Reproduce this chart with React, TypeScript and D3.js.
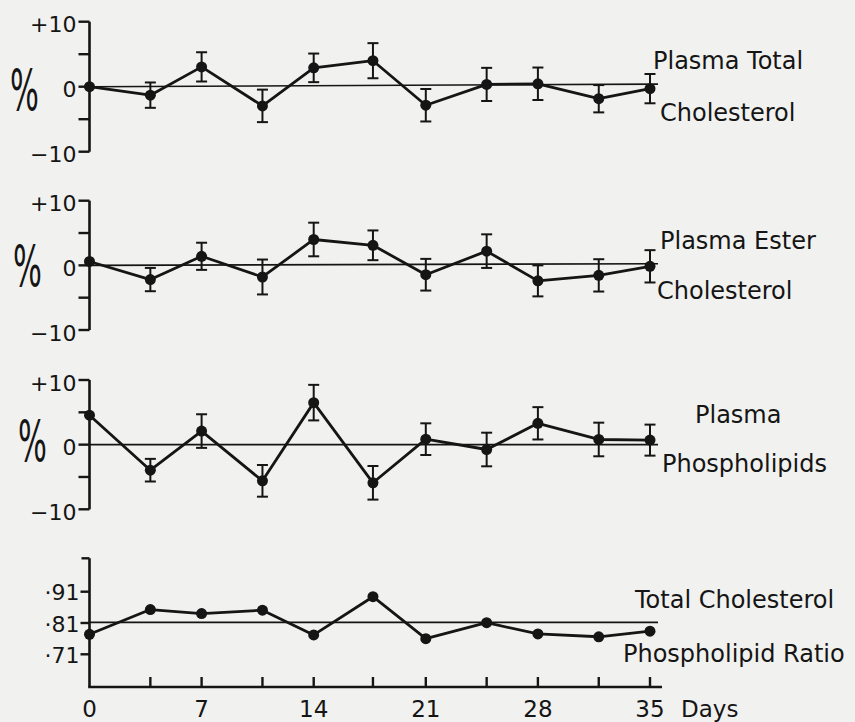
import React, { useEffect, useRef } from 'react';
import * as d3 from 'd3';

// ---- Data ----
const days = [0, 3.8, 7, 10.8, 14, 17.7, 21, 24.8, 28, 31.8, 35];
const dayTicks = [0, 7, 14, 21, 28, 35];

const totalChol = [0, -1.3, 3.05, -2.95, 2.9, 4.0, -2.85, 0.35, 0.45, -1.85, -0.3];
const totalCholErr = [0, 1.95, 2.25, 2.5, 2.2, 2.7, 2.5, 2.55, 2.5, 2.1, 2.25];

const esterChol = [0.6, -2.2, 1.4, -1.8, 4.0, 3.1, -1.45, 2.2, -2.4, -1.55, -0.15];
const esterCholErr = [0, 1.8, 2.1, 2.7, 2.6, 2.3, 2.45, 2.6, 2.4, 2.5, 2.5];

const phospholipids = [4.55, -3.95, 2.1, -5.6, 6.5, -5.9, 0.85, -0.75, 3.3, 0.8, 0.7];
const phospholipidsErr = [0, 1.75, 2.6, 2.45, 2.75, 2.6, 2.45, 2.6, 2.5, 2.6, 2.4];

const ratio = [0.774, 0.853, 0.84, 0.851, 0.772, 0.894, 0.76, 0.811, 0.775, 0.766, 0.784];

const pctTicks = [10, 5, 0, -5, -10];
const pctTickLabels = ['+10', '', '0', '', '\u221210'];
const ratioTicks = [0.91, 0.81, 0.71];
const ratioTickLabels = ['\u00b791', '\u00b781', '\u00b771'];

const refStartEnd1 = [0, 0.4];
const refStartEnd2 = [0, 0.25];
const refStartEnd3 = [0, 0];
const refStartEnd4 = [0.812, 0.812];

const labels1 = ['Plasma Total', 'Cholesterol'];
const labels2 = ['Plasma Ester', 'Cholesterol'];
const labels3 = ['Plasma', 'Phospholipids'];
const labels4 = ['Total Cholesterol', 'Phospholipid Ratio'];

const INK = '#151515';
const BG = '#f1f1ef';
const FONT = '"DejaVu Sans", sans-serif';

export default function App() {
  const ref = useRef<SVGSVGElement>(null);

  useEffect(() => {
    const svg = d3.select(ref.current);
    svg.selectAll('*').remove();
    svg.append('rect').attr('width', 855).attr('height', 722).attr('fill', BG);

    const x = d3.scaleLinear().domain([0, 35]).range([89.5, 650]);
    const axisX = 89.5;
    const refEndDay = 35.5;

    const pctPanels = [
      { values: totalChol, errs: totalCholErr, range: [151.7, 21.7], ref: refStartEnd1, labels: labels1,
        labelPos: [[653, 69], [660, 121]], pct: [10, 110.5] },
      { values: esterChol, errs: esterCholErr, range: [330, 200.7], ref: refStartEnd2, labels: labels2,
        labelPos: [[660, 249], [657, 299]], pct: [13, 287] },
      { values: phospholipids, errs: phospholipidsErr, range: [509.3, 380], ref: refStartEnd3, labels: labels3,
        labelPos: [[695, 423], [662, 471.5]], pct: [18, 462] },
    ];

    const drawSeries = (g: any, vals: number[], y: any) => {
      const line = d3.line<number>().x((_, i) => x(days[i])).y((d) => y(d));
      g.append('path').attr('d', line(vals)).attr('fill', 'none').attr('stroke', INK)
        .attr('stroke-width', 2.8).attr('stroke-linejoin', 'round');
      g.selectAll('circle.pt').data(vals).enter().append('circle')
        .attr('cx', (_: number, i: number) => x(days[i])).attr('cy', (d: number) => y(d))
        .attr('r', 5.5).attr('fill', INK);
    };

    pctPanels.forEach((p) => {
      const y = d3.scaleLinear().domain([-10, 10]).range(p.range);
      const g = svg.append('g');
      // reference line
      g.append('line').attr('x1', x(0)).attr('x2', x(refEndDay))
        .attr('y1', y(p.ref[0])).attr('y2', y(p.ref[1]))
        .attr('stroke', INK).attr('stroke-width', 1.6);
      // axis
      g.append('line').attr('x1', axisX).attr('x2', axisX).attr('y1', y(10)).attr('y2', y(-10))
        .attr('stroke', INK).attr('stroke-width', 2.6);
      pctTicks.forEach((t, i) => {
        g.append('line').attr('x1', axisX - 11).attr('x2', axisX).attr('y1', y(t)).attr('y2', y(t))
          .attr('stroke', INK).attr('stroke-width', 2.4);
        if (pctTickLabels[i]) {
          g.append('text').attr('x', axisX - 13).attr('y', y(t) + 3)
            .attr('text-anchor', 'end').attr('dominant-baseline', 'central')
            .attr('font-family', FONT).attr('font-size', 22).attr('fill', INK)
            .text(pctTickLabels[i]);
        }
      });
      // percent sign (tall, narrow)
      g.append('text')
        .attr('transform', `translate(${p.pct[0]},${p.pct[1]}) scale(0.78,1.45)`)
        .attr('font-family', FONT).attr('font-size', 39).attr('fill', INK)
        .text('%');
      // error bars
      p.values.forEach((v, i) => {
        const e = p.errs[i];
        if (!e) return;
        const cx = x(days[i]);
        g.append('line').attr('x1', cx).attr('x2', cx).attr('y1', y(v - e)).attr('y2', y(v + e))
          .attr('stroke', INK).attr('stroke-width', 2);
        [v - e, v + e].forEach((c) => {
          g.append('line').attr('x1', cx - 5.5).attr('x2', cx + 5.5).attr('y1', y(c)).attr('y2', y(c))
            .attr('stroke', INK).attr('stroke-width', 2);
        });
      });
      drawSeries(g, p.values, y);
      p.labels.forEach((t, i) => {
        g.append('text').attr('x', p.labelPos[i][0]).attr('y', p.labelPos[i][1])
          .attr('font-family', FONT).attr('font-size', 24).attr('fill', INK).text(t);
      });
    });

    // ---- ratio panel ----
    const y4 = d3.scaleLinear().domain([0.71, 0.91]).range([654.3, 591.7]);
    const g4 = svg.append('g');
    const axisTop = 558.3;
    const axisBottom = 687;
    g4.append('line').attr('x1', x(0)).attr('x2', x(refEndDay))
      .attr('y1', y4(refStartEnd4[0])).attr('y2', y4(refStartEnd4[1]))
      .attr('stroke', INK).attr('stroke-width', 1.6);
    g4.append('line').attr('x1', axisX).attr('x2', axisX).attr('y1', axisTop).attr('y2', axisBottom)
      .attr('stroke', INK).attr('stroke-width', 2.6);
    g4.append('line').attr('x1', axisX - 8).attr('x2', axisX).attr('y1', axisTop).attr('y2', axisTop)
      .attr('stroke', INK).attr('stroke-width', 2.4);
    ratioTicks.forEach((t, i) => {
      g4.append('line').attr('x1', axisX - 9).attr('x2', axisX).attr('y1', y4(t)).attr('y2', y4(t))
        .attr('stroke', INK).attr('stroke-width', 2.4);
      g4.append('text').attr('x', axisX - 10).attr('y', y4(t) + 1)
        .attr('text-anchor', 'end').attr('dominant-baseline', 'central')
        .attr('font-family', FONT).attr('font-size', 22).attr('fill', INK)
        .text(ratioTickLabels[i]);
    });
    // x axis
    g4.append('line').attr('x1', axisX - 1.3).attr('x2', x(35.75)).attr('y1', axisBottom).attr('y2', axisBottom)
      .attr('stroke', INK).attr('stroke-width', 2.6);
    days.forEach((d) => {
      if (d === 0) return;
      g4.append('line').attr('x1', x(d)).attr('x2', x(d)).attr('y1', axisBottom).attr('y2', axisBottom - 10)
        .attr('stroke', INK).attr('stroke-width', 2.4);
    });
    dayTicks.forEach((d) => {
      g4.append('text').attr('x', x(d)).attr('y', 716.5).attr('text-anchor', 'middle')
        .attr('font-family', FONT).attr('font-size', 23).attr('fill', INK).text(String(d));
    });
    g4.append('text').attr('x', 681).attr('y', 716.5)
      .attr('font-family', FONT).attr('font-size', 23).attr('fill', INK).text('Days');
    drawSeries(g4, ratio, y4);
    const pos4 = [[635, 608], [623, 661.5]];
    labels4.forEach((t, i) => {
      g4.append('text').attr('x', pos4[i][0]).attr('y', pos4[i][1])
        .attr('font-family', FONT).attr('font-size', 24).attr('fill', INK).text(t);
    });
  }, []);

  return (
    <svg ref={ref} width={855} height={722}
      style={{ position: 'absolute', left: 0, top: 0, display: 'block' }} />
  );
}
